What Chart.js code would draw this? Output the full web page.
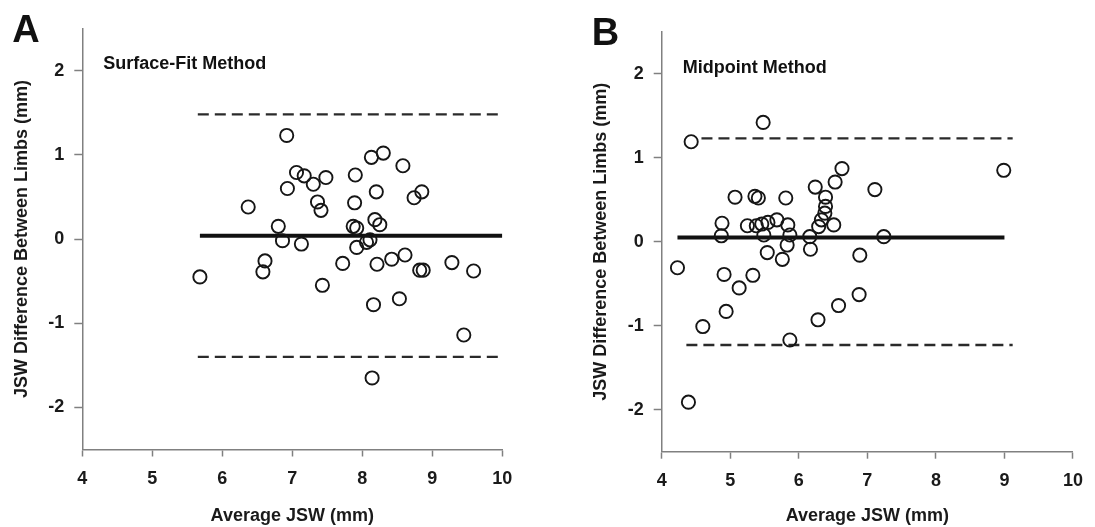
<!DOCTYPE html>
<html>
<head>
<meta charset="utf-8">
<script src="https://cdn.jsdelivr.net/npm/chart.js@4.4.0/dist/chart.umd.min.js"></script>
<style>
  html, body { margin: 0; padding: 0; background: #fff; }
  #wrap { position: relative; width: 1095px; height: 527px; }
  canvas { position: absolute; top: 0; }
  #chartA { left: 0; }
  #chartB { left: 547px; }
</style>
</head>
<body>
<div id="wrap">
  <canvas id="chartA" width="547" height="527"></canvas>
  <canvas id="chartB" width="548" height="527"></canvas>
</div>
<script>
const FONT = "'Liberation Sans', Arial, sans-serif";

// tick labels
const xTicks = [4, 5, 6, 7, 8, 9, 10];
const yTicks = [-2, -1, 0, 1, 2];

// Panel A - Surface-Fit Method
const avgA = [5.68, 6.37, 6.58, 6.61, 6.80, 6.86, 6.92, 6.93, 7.06, 7.13, 7.17, 7.30, 7.36, 7.41, 7.43,
  7.48, 7.72, 7.87, 7.89, 7.90, 7.92, 7.92, 8.06, 8.11, 8.13, 8.14, 8.16, 8.18, 8.20, 8.21,
  8.25, 8.30, 8.42, 8.53, 8.58, 8.61, 8.74, 8.82, 8.85, 8.87, 9.28, 9.45, 9.59];
const diffA = [-0.45, 0.38, -0.39, -0.26, 0.15, -0.02, 1.23, 0.60, 0.79, -0.06, 0.75, 0.65, 0.44, 0.34, -0.55,
  0.73, -0.29, 0.15, 0.43, 0.76, 0.13, -0.10, -0.04, -0.01, 0.97, -1.65, -0.78, 0.23, 0.56, -0.30,
  0.17, 1.02, -0.24, -0.71, 0.87, -0.19, 0.49, -0.37, 0.56, -0.37, -0.28, -1.14, -0.38];
const meanA = 0.04;
const upperA = 1.48;
const lowerA = -1.40;
const meanSpanA = [5.68, 10];
const upperSpanA = [5.65, 10];
const lowerSpanA = [5.65, 10];

// Panel B - Midpoint Method
const avgB = [4.23, 4.39, 4.43, 4.60, 4.87, 4.88, 4.91, 4.94, 5.07, 5.13, 5.25, 5.33, 5.36, 5.38, 5.41,
  5.46, 5.48, 5.49, 5.54, 5.55, 5.68, 5.76, 5.81, 5.83, 5.84, 5.87, 5.87, 6.16, 6.17, 6.24,
  6.28, 6.29, 6.33, 6.38, 6.39, 6.39, 6.51, 6.53, 6.58, 6.63, 6.88, 6.89, 7.11, 7.24, 8.99];
const diffB = [-0.31, -1.91, 1.19, -1.01, 0.07, 0.22, -0.39, -0.83, 0.53, -0.55, 0.19, -0.40, 0.54, 0.19, 0.52,
  0.21, 1.42, 0.08, -0.13, 0.23, 0.26, -0.21, 0.52, -0.04, 0.20, 0.08, -1.17, 0.06, -0.09, 0.65,
  -0.93, 0.18, 0.26, 0.34, 0.42, 0.53, 0.20, 0.71, -0.76, 0.87, -0.63, -0.16, 0.62, 0.06, 0.85];
const meanB = 0.05;
const upperB = 1.23;
const lowerB = -1.23;
const meanSpanB = [4.23, 9.0];
const upperSpanB = [4.58, 9.12];
const lowerSpanB = [4.36, 9.12];

// panel letter + method name, drawn inside each chart
const panelText = {
  id: "panelText",
  afterDraw(chart, args, opts) {
    const ctx = chart.ctx;
    const area = chart.chartArea;
    ctx.save();
    ctx.fillStyle = "#111";
    ctx.textAlign = "left";
    ctx.textBaseline = "alphabetic";
    ctx.font = "bold 38px " + FONT;
    ctx.fillText(opts.letter, area.left - 70, area.top + 13.5);
    ctx.font = "bold 18px " + FONT;
    ctx.textBaseline = "middle";
    ctx.fillText(opts.title, area.left + 21, area.top + 36);
    ctx.restore();
  }
};

function hLine(span, level) {
  return span.map(x => ({ x: x, y: level }));
}

function limitLine(span, level) {
  return {
    type: "line",
    data: hLine(span, level),
    borderColor: "#2a2a2a",
    borderWidth: 2.4,
    borderDash: [11, 6],
    pointRadius: 0
  };
}

function makePanel(id, p) {
  const points = p.avg.map((x, i) => ({ x: x, y: p.diff[i] }));
  const ctx = document.getElementById(id).getContext("2d");
  new Chart(ctx, {
    type: "scatter",
    data: {
      datasets: [
        {
          data: points,
          pointStyle: "circle",
          pointRadius: 6.6,
          pointHoverRadius: 6.6,
          borderWidth: 1.9,
          borderColor: "#161616",
          backgroundColor: "rgba(0,0,0,0)"
        },
        {
          type: "line",
          data: hLine(p.meanSpan, p.mean),
          borderColor: "#111",
          borderWidth: 4,
          pointRadius: 0
        },
        limitLine(p.upperSpan, p.upper),
        limitLine(p.lowerSpan, p.lower)
      ]
    },
    options: {
      responsive: false,
      animation: false,
      devicePixelRatio: 1,
      layout: { padding: { left: p.padLeft, right: p.padRight, top: p.padTop, bottom: 0 } },
      plugins: {
        legend: { display: false },
        tooltip: { enabled: false },
        panelText: { letter: p.letter, title: p.title }
      },
      scales: {
        x: {
          type: "linear",
          min: 4,
          max: 10,
          afterBuildTicks: (scale) => { scale.ticks = xTicks.map(v => ({ value: v })); },
          afterFit: (scale) => { scale.height = p.xHeight; },
          border: { display: true, color: "#808080", width: 1.5 },
          grid: { drawOnChartArea: false, drawTicks: true, tickLength: 7, tickWidth: 1.5, tickColor: "#808080" },
          ticks: { color: "#1a1a1a", padding: 12, font: { family: FONT, size: 18, weight: "bold" } },
          title: {
            display: true,
            text: "Average JSW (mm)",
            color: "#1a1a1a",
            padding: { top: 0, bottom: 0 },
            font: { family: FONT, size: 18, weight: "bold" }
          }
        },
        y: {
          type: "linear",
          min: -2.5,
          max: 2.5,
          afterBuildTicks: (scale) => { scale.ticks = yTicks.map(v => ({ value: v })); },
          afterFit: (scale) => { scale.width = 82.3; },
          border: { display: true, color: "#808080", width: 1.5 },
          grid: { drawOnChartArea: false, drawTicks: true, tickLength: 8, tickWidth: 1.5, tickColor: "#808080" },
          ticks: { color: "#1a1a1a", padding: 10, font: { family: FONT, size: 18, weight: "bold" } },
          title: {
            display: true,
            text: "JSW Difference Between Limbs (mm)",
            color: "#1a1a1a",
            padding: { top: 11, bottom: 0 },
            font: { family: FONT, size: 18, weight: "bold" }
          }
        }
      }
    },
    plugins: [panelText]
  });
}

makePanel("chartA", {
  letter: "A", title: "Surface-Fit Method",
  avg: avgA, diff: diffA, mean: meanA, upper: upperA, lower: lowerA,
  meanSpan: meanSpanA, upperSpan: upperSpanA, lowerSpan: lowerSpanA,
  padLeft: 0, padRight: 44.7, padTop: 28.5, xHeight: 77.5
});
makePanel("chartB", {
  letter: "B", title: "Midpoint Method",
  avg: avgB, diff: diffB, mean: meanB, upper: upperB, lower: lowerB,
  meanSpan: meanSpanB, upperSpan: upperSpanB, lowerSpan: lowerSpanB,
  padLeft: 32.4, padRight: 13.3, padTop: 31.7, xHeight: 75.3
});
</script>
</body>
</html>
